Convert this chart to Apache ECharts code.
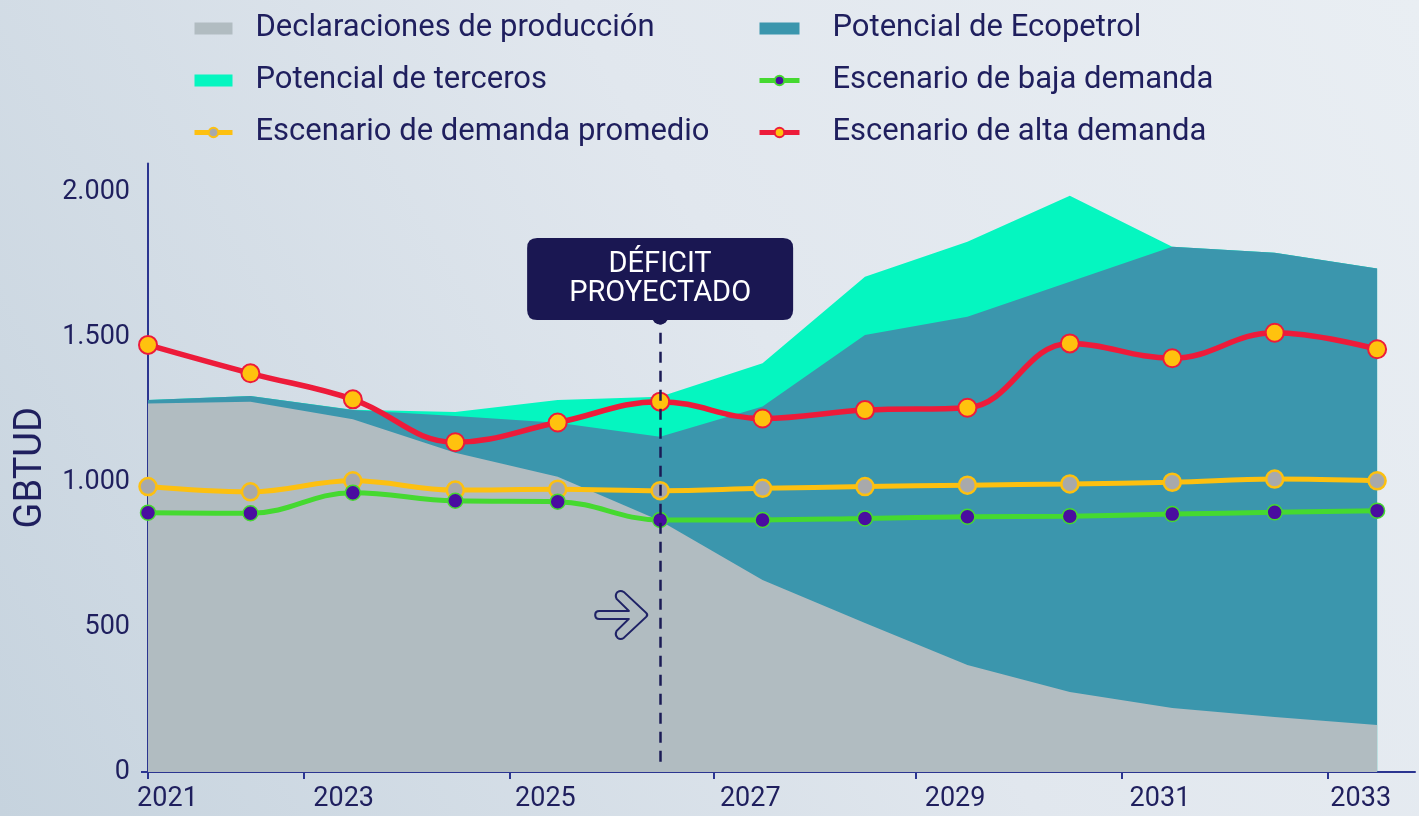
<!DOCTYPE html>
<html>
<head>
<meta charset="utf-8">
<script src="https://cdn.jsdelivr.net/npm/echarts@6/dist/echarts.min.js"></script>
<style>
  html, body { margin: 0; padding: 0; }
  #chart { width: 1419px; height: 816px; }
</style>
</head>
<body>
<div id="chart"></div>
<script>
// years of the points
var years = [2021, 2022, 2023, 2024, 2025, 2026, 2027, 2028, 2029, 2030, 2031, 2032, 2033];

// GBTUD
var declaraciones = [1272, 1278, 1217, 1102, 1019, 867, 663, 514, 369, 276, 221, 190, 162];
var ecopetrol = [1284, 1298, 1249, 1229, 1205, 1157, 1261, 1508, 1571, 1692, 1813, 1792, 1738];
var terceros = [1284, 1298, 1250, 1242, 1284, 1295, 1411, 1709, 1830, 1989, 1813, 1792, 1738];
var bajaDemanda = [895, 893, 964, 936, 933, 870, 870, 875, 881, 883, 890, 896, 902];
var promedioDemanda = [985, 967, 1005, 973, 976, 971, 979, 985, 990, 994, 1000, 1011, 1005];
var altaDemanda = [1474, 1376, 1286, 1138, 1206, 1278, 1220, 1249, 1257, 1479, 1428, 1516, 1459];

// axis ticks / labels
var xTicks = [2021, 2022.52, 2024.53, 2026.52, 2028.5, 2030.51, 2032.52];
var xLabels = [2021.19, 2022.91, 2024.88, 2026.88, 2028.88, 2030.88, 2032.84];
var yTicks = [0, 500, 1000, 1500, 2000];

var navy = '#1f1f5e';
var font = 'Roboto';

function pts(vals) {
  return years.map(function (y, i) { return [y, vals[i]]; });
}
function fmtNum(v) {
  if (v >= 1000) return Math.floor(v / 1000) + '.' + String(v % 1000).padStart(3, '0');
  return String(v);
}

var arrowPath = 'path://M4,21 L33,21 L21,9 Q19,5 22,2 Q25,0 28,2 L50,23 Q52,25 50,27 L28,48 Q25,50 22,48 Q19,45 21,41 L33,29 L4,29 Q0,29 0,25 Q0,21 4,21 Z';
var boxPath = 'path://M10,0 L256,0 Q266,0 266,10 L266,72 Q266,82 256,82 L10,82 Q0,82 0,72 L0,10 Q0,0 10,0 Z';

var chart = echarts.init(document.getElementById('chart'));

var option = {
  backgroundColor: new echarts.graphic.LinearGradient(1, 0, 0, 1, [
    { offset: 0, color: '#e9eef3' },
    { offset: 0.45, color: '#e1e7ee' },
    { offset: 1, color: '#c6d3de' }
  ]),
  textStyle: { fontFamily: font },
  animation: false,
  legend: [{
    orient: 'vertical',
    left: 187,
    top: 8,
    itemWidth: 38,
    itemHeight: 12,
    itemGap: 21,
    textStyle: { color: navy, fontSize: 31, fontFamily: font, padding: [0, 0, 0, 18] },
    data: [
      { name: 'Declaraciones de producción', icon: 'rect' },
      { name: 'Potencial de terceros', icon: 'rect' },
      { name: 'Escenario de demanda promedio', lineStyle: { width: 5 } }
    ]
  }, {
    orient: 'vertical',
    left: 752,
    top: 8,
    itemWidth: 40,
    itemHeight: 12,
    itemGap: 21,
    textStyle: { color: navy, fontSize: 31, fontFamily: font, padding: [0, 0, 0, 28] },
    data: [
      { name: 'Potencial de Ecopetrol', icon: 'rect' },
      { name: 'Escenario de baja demanda', lineStyle: { width: 5 } },
      { name: 'Escenario de alta demanda', lineStyle: { width: 5 } }
    ]
  }],
  grid: { left: 148, right: 4, top: 163.5, bottom: 44, containLabel: false },
  xAxis: {
    type: 'value',
    min: 2021,
    max: 2033.37,
    splitLine: { show: false },
    axisLine: { show: true, lineStyle: { color: '#2b3590', width: 2 } },
    axisTick: { show: true, customValues: xTicks, length: 7, lineStyle: { color: '#2b3590', width: 2 } },
    axisLabel: {
      customValues: xLabels,
      color: navy, fontSize: 27, fontFamily: font, margin: 14,
      formatter: function (v) { return String(Math.round(v)); }
    }
  },
  yAxis: {
    type: 'value',
    min: 0,
    max: 2100,
    name: 'GBTUD',
    nameLocation: 'middle',
    nameRotate: 90,
    nameGap: 98,
    nameTextStyle: { color: navy, fontSize: 38, fontFamily: font },
    splitLine: { show: false },
    axisLine: { show: true, lineStyle: { color: '#2b3590', width: 2 } },
    axisTick: { show: true, customValues: [0], length: 7, lineStyle: { color: '#2b3590', width: 2 } },
    axisLabel: {
      customValues: yTicks,
      color: navy, fontSize: 27, fontFamily: font, margin: 18,
      formatter: function (v) { return fmtNum(v); }
    }
  },
  series: [{
    name: 'Potencial de terceros',
    type: 'line',
    data: pts(terceros),
    symbol: 'none',
    lineStyle: { width: 0 },
    itemStyle: { color: '#05f6c0' },
    areaStyle: { color: '#05f6c0', opacity: 1 }
  }, {
    name: 'Potencial de Ecopetrol',
    type: 'line',
    data: pts(ecopetrol),
    symbol: 'none',
    lineStyle: { width: 0 },
    itemStyle: { color: '#3b96ad' },
    areaStyle: { color: '#3b96ad', opacity: 1 }
  }, {
    name: 'Declaraciones de producción',
    type: 'line',
    data: pts(declaraciones),
    symbol: 'none',
    lineStyle: { width: 0 },
    itemStyle: { color: '#b1bcc1' },
    areaStyle: { color: '#b1bcc1', opacity: 1 },
    markLine: {
      silent: true,
      symbol: 'none',
      label: { show: false },
      lineStyle: { color: '#1b1b55', width: 2.5, type: [11, 8] },
      data: [[{ coord: [2026, 35] }, { coord: [2026, 1545] }]]
    },
    markPoint: {
      silent: true,
      data: [{
        coord: [2026, 1572],
        symbol: 'circle',
        symbolSize: 16,
        itemStyle: { color: '#1a1752' },
        label: { show: false }
      }, {
        coord: [2026, 1701],
        symbol: boxPath,
        symbolSize: [266, 82],
        itemStyle: { color: '#1a1752' },
        label: {
          show: true,
          position: 'inside',
          formatter: 'DÉFICIT\nPROYECTADO',
          color: '#ffffff',
          fontSize: 29,
          lineHeight: 29,
          fontFamily: font
        }
      }, {
        coord: [2025.62, 542],
        symbol: arrowPath,
        symbolSize: [52, 48],
        itemStyle: { color: 'rgba(0,0,0,0)', borderColor: '#1f2266', borderWidth: 2, borderJoin: 'round' },
        label: { show: false }
      }]
    }
  }, {
    name: 'Escenario de demanda promedio',
    type: 'line',
    data: pts(promedioDemanda),
    smooth: 0.4,
    symbol: 'circle',
    symbolSize: 17,
    lineStyle: { color: '#fdc010', width: 5 },
    itemStyle: { color: '#a8a9ab', borderColor: '#fdc010', borderWidth: 2.5 }
  }, {
    name: 'Escenario de baja demanda',
    type: 'line',
    data: pts(bajaDemanda),
    smooth: 0.4,
    symbol: 'circle',
    symbolSize: 15,
    lineStyle: { color: '#45d930', width: 5 },
    itemStyle: { color: '#4a0da0', borderColor: '#45d930', borderWidth: 1.5 }
  }, {
    name: 'Escenario de alta demanda',
    type: 'line',
    data: pts(altaDemanda),
    smooth: 0.4,
    symbol: 'circle',
    symbolSize: 18,
    lineStyle: { color: '#ed1b3a', width: 5.5 },
    itemStyle: { color: '#ffc20e', borderColor: '#ed1b3a', borderWidth: 2 }
  }]
};

chart.setOption(option);
</script>
</body>
</html>
